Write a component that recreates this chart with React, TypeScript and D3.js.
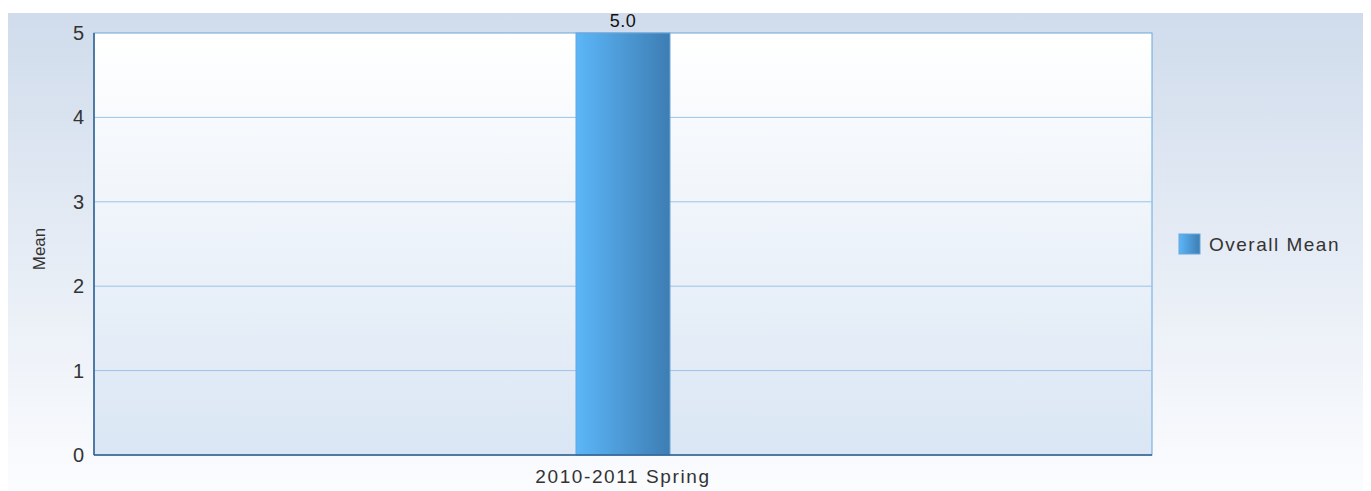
import React from "react";
import * as d3 from "d3";

const categories = ["2010-2011 Spring"];
const overallMean = [5.0];
const yTicks = [0, 1, 2, 3, 4, 5];
const seriesName = "Overall Mean";

const App: React.FC = () => {
  const width = 1363;
  const height = 483;
  const plot = { left: 86, top: 25, right: 1144, bottom: 447 };

  const x = d3
    .scaleBand<string>()
    .domain(categories)
    .range([plot.left, plot.right])
    .paddingInner(0)
    .paddingOuter(0);

  const y = d3.scaleLinear().domain([0, 5]).range([plot.bottom, plot.top]);

  const barW = 94;
  const font = "Liberation Sans, Arial, sans-serif";

  return (
    <svg width={width} height={height} style={{ display: "block", fontFamily: font }}>
      <defs>
        <linearGradient id="bg" x1="0" y1="0" x2="0" y2="1">
          <stop offset="0" stopColor="#d0dcec" />
          <stop offset="1" stopColor="#fbfcfe" />
        </linearGradient>
        <linearGradient id="plotBg" x1="0" y1="0" x2="0" y2="1">
          <stop offset="0" stopColor="#ffffff" />
          <stop offset="1" stopColor="#dae6f4" />
        </linearGradient>
        <linearGradient id="bar" x1="0" y1="0" x2="1" y2="0">
          <stop offset="0" stopColor="#5cb6f8" />
          <stop offset="1" stopColor="#3d7db3" />
        </linearGradient>
      </defs>

      <rect x={0} y={5} width={width - 2} height={height - 5} fill="url(#bg)" />

      <rect
        x={plot.left}
        y={plot.top}
        width={plot.right - plot.left}
        height={plot.bottom - plot.top}
        fill="url(#plotBg)"
        stroke="#6aa6da"
        strokeWidth={1}
      />

      {yTicks
        .filter((t) => t > 0 && t < 5)
        .map((t) => (
          <line
            key={t}
            x1={plot.left}
            x2={plot.right}
            y1={y(t)}
            y2={y(t)}
            stroke="#9cc3e6"
            strokeWidth={1}
          />
        ))}

      {categories.map((c, i) => {
        const cx = (x(c) ?? 0) + x.bandwidth() / 2;
        return (
          <g key={c}>
            <rect
              x={cx - barW / 2}
              y={y(overallMean[i])}
              width={barW}
              height={plot.bottom - y(overallMean[i])}
              fill="url(#bar)"
              stroke="#6aa6da"
              strokeWidth={1}
            />
            <text
              x={cx}
              y={y(overallMean[i]) - 6}
              textAnchor="middle"
              fontSize={18}
              letterSpacing={0.5}
              fill="#111"
            >
              {overallMean[i].toFixed(1)}
            </text>
            <text
              x={cx}
              y={plot.bottom + 28}
              textAnchor="middle"
              fontSize={19}
              letterSpacing={1.6}
              fill="#333"
            >
              {c}
            </text>
          </g>
        );
      })}

      <line x1={plot.left} x2={plot.left} y1={plot.top} y2={plot.bottom} stroke="#2f5f8f" strokeWidth={1.5} />
      <line x1={plot.left} x2={plot.right} y1={plot.bottom} y2={plot.bottom} stroke="#2f5f8f" strokeWidth={1.5} />

      {yTicks.map((t) => (
        <text key={t} x={plot.left - 10} y={y(t) + 7} textAnchor="end" fontSize={20} fill="#333">
          {t}
        </text>
      ))}

      <text
        transform={`translate(${37},${241}) rotate(-90)`}
        textAnchor="middle"
        fontSize={17}
        fill="#333"
      >
        Mean
      </text>

      <rect x={1171} y={226} width={21} height={20} fill="url(#bar)" stroke="#6aa6da" strokeWidth={1} />
      <text x={1201} y={243} fontSize={19} letterSpacing={1.5} fill="#333">
        {seriesName}
      </text>
    </svg>
  );
};

export default App;
